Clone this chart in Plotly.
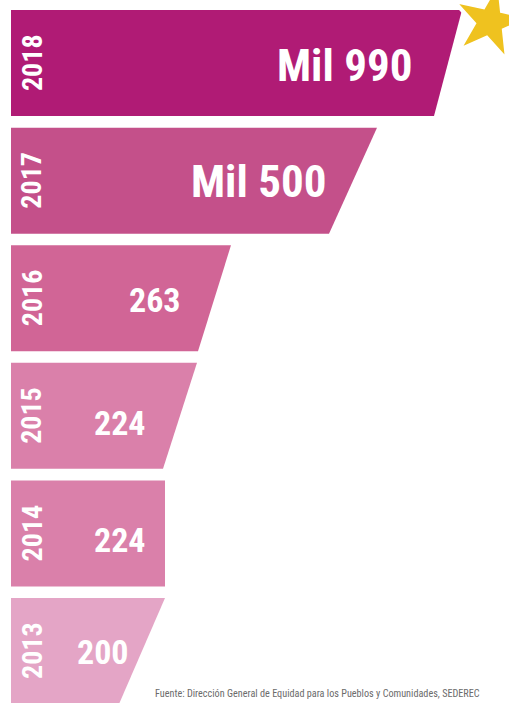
import plotly.graph_objects as go

# ---- data ----
years = ["2013", "2014", "2015", "2016", "2017", "2018"]
value_labels = ["200", "224", "224", "263", "Mil 500", "Mil 990"]
# drawn extent of each bar at its top and bottom edge (display units)
top_extent = [154, 154, 186, 220, 366, 451]
bottom_extent = [108, 154, 152, 187, 318, 423]

# ---- styles ----
colors = ["#E4A5C6", "#DA80AA", "#DA80AA", "#D16596", "#C4508A", "#B01B75"]
label_right = [120, 137, 137, 172, 317, 403]
label_size = [34, 34, 34, 34, 45, 45]
label_shift = [-1, -7, -7, -2, -1, -2]
half = 0.4507
FONT = "Liberation Sans Narrow, Roboto Condensed, Arial Narrow, sans-serif"

fig = go.Figure()
for i, yr in enumerate(years):
    xs = [0, 0, top_extent[i], bottom_extent[i], 0]
    ys = [i - half, i + half, i + half, i - half, i - half]
    fig.add_trace(go.Scatter(
        x=xs, y=ys, mode="lines", fill="toself", fillcolor=colors[i],
        line=dict(width=0, color=colors[i]), hoverinfo="skip", showlegend=False))
    fig.add_annotation(x=21, y=i, text=yr, textangle=-90, showarrow=False,
                       xanchor="center", yanchor="middle",
                       font=dict(family=FONT, size=28, color="white", weight="bold"))
    fig.add_annotation(x=label_right[i], y=i, yshift=label_shift[i], text=value_labels[i],
                       showarrow=False, xanchor="right", yanchor="middle",
                       font=dict(family=FONT, size=label_size[i], color="white", weight="bold"))

# star decoration
fig.add_trace(go.Scatter(
    x=[479], y=[5.35], mode="markers", hoverinfo="skip", showlegend=False,
    marker=dict(symbol="star", size=60, color="#EFC21F", angle=12,
                line=dict(color="white", width=4))))

fig.add_annotation(
    xref="paper", yref="paper", x=153 / 509, y=1 - 686 / 703,
    xanchor="left", yanchor="top", showarrow=False,
    text="Fuente: Dirección General de Equidad para los Pueblos y Comunidades, SEDEREC",
    font=dict(family=FONT, size=10.2, color="#6b6b6b"))

fig.update_layout(
    width=509, height=703, margin=dict(l=0, r=0, t=0, b=0),
    paper_bgcolor="white", plot_bgcolor="white",
    xaxis=dict(range=[-11, 498], visible=False, fixedrange=True),
    yaxis=dict(range=[-0.442, 5.536], visible=False, fixedrange=True),
)
fig.write_html("out.html", config={"displayModeBar": False},
               post_script="document.body.style.margin='0';document.body.style.overflow='hidden';")
